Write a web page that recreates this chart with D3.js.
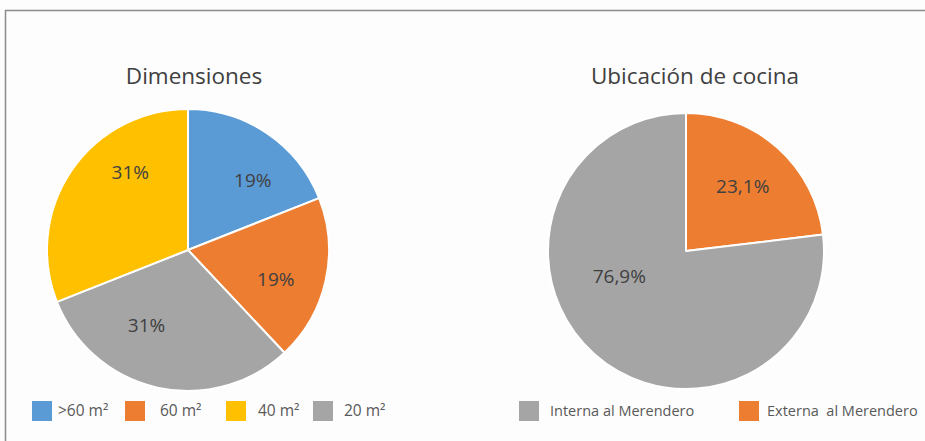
<!DOCTYPE html>
<html>
<head>
<meta charset="utf-8">
<style>
  body { margin: 0; background: #fff; overflow: hidden; }
  svg { display: block; }
  text { font-family: "Open Sans", "Noto Sans", sans-serif; }
</style>
</head>
<body>
<svg width="925" height="441"></svg>
<script src="https://d3js.org/d3.v7.min.js"></script>
<script>

// chart 1: Dimensiones
var dimLabels = [">60 m\u00b2", "60 m\u00b2", "20 m\u00b2", "40 m\u00b2"];
var dimValues = [19, 19, 31, 31];
var dimText = ["19%", "19%", "31%", "31%"];
var dimColors = ["#5b9bd5", "#ed7d31", "#a5a5a5", "#ffc000"];
var dimLegend = [">60 m\u00b2", "60 m\u00b2", "40 m\u00b2", "20 m\u00b2"];

// chart 2: Ubicación de cocina
var cocLabels = ["Externa  al Merendero", "Interna al Merendero"];
var cocValues = [23.1, 76.9];
var cocText = ["23,1%", "76,9%"];
var cocColors = ["#ed7d31", "#a5a5a5"];
var cocLegend = ["Interna al Merendero", "Externa\u00a0 al Merendero"];

var svg = d3.select("svg");

svg.append("rect")
    .attr("width", 925)
    .attr("height", 441)
    .attr("fill", "#fdfdfd");

// frame (only top and left edges are in view)
svg.append("line")
    .attr("x1", 5).attr("x2", 925)
    .attr("y1", 10.5).attr("y2", 10.5)
    .attr("stroke", "#8c8c8c")
    .attr("stroke-width", 1.5);
svg.append("line")
    .attr("x1", 5.5).attr("x2", 5.5)
    .attr("y1", 10).attr("y2", 441)
    .attr("stroke", "#8c8c8c")
    .attr("stroke-width", 1.5);

function drawPie(opts) {
  var g = svg.append("g")
      .attr("transform", "translate(" + opts.cx + "," + opts.cy + ")");

  var pie = d3.pie().sort(null).value(function(d) { return d; });
  var arcs = pie(opts.values);

  var arc = d3.arc().innerRadius(0).outerRadius(opts.r);
  var labelArc = d3.arc().innerRadius(opts.lr).outerRadius(opts.lr);

  g.selectAll("path")
      .data(arcs)
    .enter().append("path")
      .attr("d", arc)
      .attr("fill", function(d, i) { return opts.colors[i]; })
      .attr("stroke", "#fff")
      .attr("stroke-width", 2)
      .attr("stroke-linejoin", "round");

  // labels sit near the centroid, nudged like Excel's "best fit"
  g.selectAll("text.lbl")
      .data(arcs)
    .enter().append("text")
      .attr("class", "lbl")
      .attr("transform", function(d, i) {
        var c = labelArc.centroid(d);
        return "translate(" + (c[0] + opts.nudge[i][0]) + "," + (c[1] + opts.nudge[i][1]) + ")";
      })
      .attr("text-anchor", "middle")
      .attr("dy", "0.35em")
      .attr("fill", "#404040")
      .attr("font-size", 19)
      .text(function(d, i) { return opts.text[i]; });

  svg.append("text")
      .attr("x", opts.tx)
      .attr("y", 84)
      .attr("text-anchor", "middle")
      .attr("fill", "#404040")
      .attr("font-size", 22.5)
      .text(opts.title);
}

drawPie({ cx: 188, cy: 250, r: 141, lr: 94, values: dimValues, colors: dimColors,
          text: dimText, title: "Dimensiones", tx: 194,
          nudge: [[12, 8], [-4, 9], [-21, -16], [20, -25]] });
drawPie({ cx: 686, cy: 251, r: 138, lr: 90, values: cocValues, colors: cocColors,
          text: cocText, title: "Ubicaci\u00f3n de cocina", tx: 695,
          nudge: [[-3, 3], [-7, -42]] });

// legends
function drawLegend(items, colorOf, xs, y, gap, size) {
  var lg = svg.append("g");
  items.forEach(function(name, i) {
    lg.append("rect")
        .attr("x", xs[i])
        .attr("y", y - 10)
        .attr("width", 20)
        .attr("height", 20)
        .attr("fill", colorOf(name.replace("\u00a0", " ")));
    lg.append("text")
        .attr("x", xs[i] + gap[i])
        .attr("y", y)
        .attr("dy", "0.35em")
        .attr("fill", "#595959")
        .attr("font-size", size)
        .text(name);
  });
}

var dimColor = d3.scaleOrdinal().domain(dimLabels).range(dimColors);
var cocColor = d3.scaleOrdinal().domain(cocLabels).range(cocColors);

drawLegend(dimLegend, dimColor, [32, 125, 226, 313], 411, [26, 35, 32, 31], 15.5);
drawLegend(cocLegend, cocColor, [519, 739], 411, [31, 28], 14.5);

</script>
</body>
</html>
